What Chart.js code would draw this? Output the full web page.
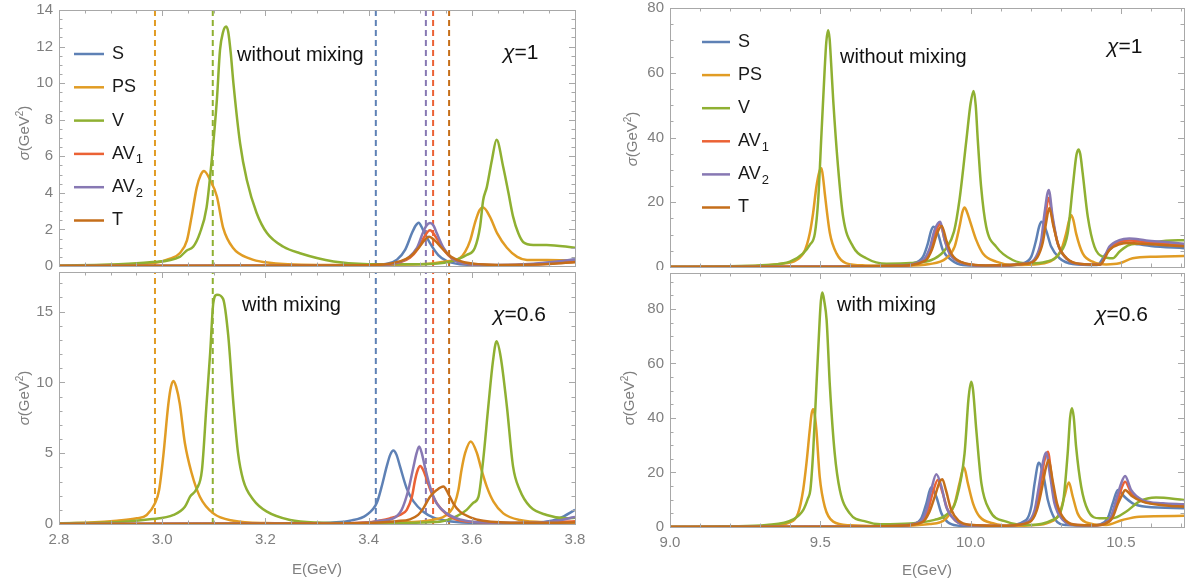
<!DOCTYPE html>
<html>
<head>
<meta charset="utf-8">
<script src="https://cdn.jsdelivr.net/npm/chart.js"></script>
<style>
  body { margin: 0; width: 1185px; height: 581px; overflow: hidden; background: #fff;
         font-family: "Liberation Sans", Arial, sans-serif; position: relative; }
  canvas { position: absolute; }
  .note { position: absolute; color: #111; font-size: 20px; line-height: 1; white-space: nowrap; transform: translateY(-50%); }
  .chi { font-size: 21px; }
  .ytitle { position: absolute; color: #7f7f7f; font-size: 15px; line-height: 1; white-space: nowrap;
            transform: translate(-50%, -50%) rotate(-90deg); }
  .xtitle { position: absolute; color: #7f7f7f; font-size: 15px; line-height: 1; white-space: nowrap;
            transform: translate(-50%, -50%); }
  sup { font-size: 10px; vertical-align: 6px; line-height: 0; }
</style>
</head>
<body>
<canvas id="topLeft" width="590" height="270" style="left:0;top:0"></canvas>
<canvas id="bottomLeft" width="590" height="311" style="left:0;top:270px"></canvas>
<canvas id="topRight" width="585" height="270" style="left:600px;top:0"></canvas>
<canvas id="bottomRight" width="585" height="311" style="left:600px;top:270px"></canvas>

<div class="note" style="left:237px;top:54px">without mixing</div>
<div class="note chi" style="left:503px;top:51px"><i>χ</i>=1</div>
<div class="note" style="left:242px;top:304px">with mixing</div>
<div class="note chi" style="left:493px;top:313px"><i>χ</i>=0.6</div>
<div class="note" style="left:840px;top:56px">without mixing</div>
<div class="note chi" style="left:1107px;top:45px"><i>χ</i>=1</div>
<div class="note" style="left:837px;top:304px">with mixing</div>
<div class="note chi" style="left:1095px;top:313px"><i>χ</i>=0.6</div>

<div class="ytitle" style="left:23px;top:133px"><i>σ</i>(GeV<sup>2</sup>)</div>
<div class="ytitle" style="left:23px;top:398px"><i>σ</i>(GeV<sup>2</sup>)</div>
<div class="ytitle" style="left:631px;top:139px"><i>σ</i>(GeV<sup>2</sup>)</div>
<div class="ytitle" style="left:628px;top:398px"><i>σ</i>(GeV<sup>2</sup>)</div>
<div class="xtitle" style="left:317px;top:568px">E(GeV)</div>
<div class="xtitle" style="left:927px;top:569px">E(GeV)</div>

<script>
// series order as in the legend
const seriesNames = ['S', 'PS', 'V', 'AV1', 'AV2', 'T'];
const seriesColors = ['#5e81b5', '#e19c24', '#8fb032', '#eb6235', '#8778b3', '#c56e1a'];

// dashed threshold lines in the charmonium panels
const thresholdE = [2.986, 3.098, 3.414, 3.511, 3.525, 3.556];
const thresholdOf = ['PS', 'V', 'S', 'AV2', 'AV1', 'T'];

// tick labels
const eTicksLow = [2.8, 3.0, 3.2, 3.4, 3.6, 3.8];
const eTicksHigh = [9.0, 9.5, 10.0, 10.5];
const sigmaTicksTL = [0, 2, 4, 6, 8, 10, 12, 14];
const sigmaTicksBL = [0, 5, 10, 15];
const sigmaTicksR = [0, 20, 40, 60, 80];

// top left: charmonium, without mixing, chi = 1   [E, sigma]
const tlS = [[2.8,0],[3.3,0.02],[3.4,0.04],[3.436,0.12],[3.455,0.35],[3.471,0.9],[3.484,1.8],[3.491,2.2],[3.497,2.37],[3.505,2.0],[3.519,1.25],[3.535,0.6],[3.551,0.28],[3.577,0.1],[3.65,0.03],[3.72,0.1],[3.8,0.35]];
const tlPS = [[2.8,0.02],[2.9,0.06],[2.982,0.15],[3.015,0.4],[3.034,0.7],[3.048,1.4],[3.057,2.7],[3.067,4.3],[3.075,5.0],[3.081,5.2],[3.093,4.7],[3.106,3.8],[3.118,2.1],[3.137,1.0],[3.17,0.4],[3.2,0.2],[3.3,0.05],[3.5,0.1],[3.55,0.25],[3.577,0.43],[3.587,0.77],[3.597,1.4],[3.606,2.35],[3.615,3.06],[3.622,3.2],[3.635,2.7],[3.649,1.8],[3.668,1.0],[3.688,0.5],[3.707,0.33],[3.746,0.33],[3.8,0.3]];
const tlV = [[2.8,0.02],[2.9,0.08],[2.976,0.2],[3.034,0.5],[3.047,0.84],[3.06,1.05],[3.073,1.8],[3.086,3.2],[3.096,5.8],[3.106,9.1],[3.112,11.8],[3.118,12.8],[3.124,13.1],[3.128,12.8],[3.133,11.6],[3.138,10.0],[3.151,6.7],[3.164,4.7],[3.183,2.9],[3.203,1.8],[3.235,1.05],[3.267,0.7],[3.332,0.25],[3.4,0.1],[3.5,0.1],[3.558,0.24],[3.59,0.6],[3.606,1.0],[3.616,2.15],[3.622,3.6],[3.629,4.3],[3.639,5.8],[3.648,6.9],[3.661,5.4],[3.671,4.0],[3.68,2.7],[3.69,1.8],[3.7,1.3],[3.719,1.15],[3.745,1.15],[3.8,1.0]];
const tlAV1 = [[2.8,0],[3.35,0.02],[3.43,0.05],[3.46,0.2],[3.48,0.45],[3.496,0.95],[3.508,1.6],[3.519,1.95],[3.53,1.6],[3.545,0.9],[3.562,0.4],[3.585,0.14],[3.65,0.04],[3.72,0.08],[3.8,0.25]];
const tlAV2 = [[2.8,0],[3.35,0.02],[3.43,0.06],[3.458,0.2],[3.476,0.43],[3.494,1.0],[3.505,1.8],[3.512,2.2],[3.519,2.35],[3.526,2.2],[3.532,1.8],[3.545,1.0],[3.561,0.43],[3.583,0.15],[3.65,0.05],[3.72,0.12],[3.8,0.35]];
const tlT = [[2.8,0],[3.35,0.03],[3.43,0.08],[3.46,0.25],[3.48,0.5],[3.497,1.0],[3.508,1.4],[3.517,1.6],[3.528,1.4],[3.543,0.95],[3.56,0.5],[3.585,0.2],[3.65,0.06],[3.72,0.08],[3.8,0.2]];

// bottom left: charmonium, with mixing, chi = 0.6
const blS = [[2.8,0],[3.2,0.02],[3.3,0.06],[3.331,0.1],[3.364,0.23],[3.396,0.64],[3.416,1.5],[3.425,2.6],[3.435,4.05],[3.442,4.9],[3.448,5.2],[3.454,4.9],[3.461,4.05],[3.474,2.5],[3.487,1.6],[3.506,0.87],[3.525,0.47],[3.551,0.23],[3.6,0.08],[3.68,0.05],[3.74,0.15],[3.77,0.4],[3.8,1.0]];
const blPS = [[2.8,0.04],[2.86,0.1],[2.912,0.23],[2.951,0.4],[2.97,0.64],[2.986,1.46],[2.994,2.4],[3.002,4.76],[3.012,8.5],[3.017,9.7],[3.022,10.1],[3.027,9.7],[3.034,8.5],[3.044,5.7],[3.057,3.6],[3.073,1.93],[3.099,0.75],[3.138,0.23],[3.2,0.07],[3.4,0.02],[3.45,0.1],[3.525,0.3],[3.558,0.87],[3.567,1.46],[3.574,2.4],[3.58,3.8],[3.587,5.0],[3.598,5.83],[3.61,5.0],[3.619,3.8],[3.629,2.64],[3.642,1.58],[3.661,0.75],[3.693,0.28],[3.75,0.12],[3.8,0.1]];
const blV = [[2.8,0.05],[2.912,0.12],[2.976,0.33],[3.022,0.64],[3.044,1.22],[3.054,1.93],[3.067,2.5],[3.077,3.8],[3.086,8.5],[3.093,12.1],[3.099,15.6],[3.106,16.2],[3.118,15.9],[3.128,13.3],[3.138,8.5],[3.147,5.0],[3.157,3.1],[3.177,1.7],[3.203,0.87],[3.248,0.28],[3.3,0.1],[3.4,0.05],[3.538,0.16],[3.571,0.55],[3.59,1.0],[3.603,1.5],[3.613,1.93],[3.622,4.5],[3.632,8.3],[3.641,11.5],[3.648,12.9],[3.656,11.8],[3.668,8.3],[3.68,4.05],[3.693,2.4],[3.713,1.22],[3.745,0.64],[3.784,0.4],[3.8,0.45]];
const blAV1 = [[2.8,0],[3.3,0.03],[3.4,0.12],[3.422,0.25],[3.441,0.4],[3.461,0.64],[3.474,1.0],[3.484,1.93],[3.49,3.1],[3.495,3.8],[3.5,4.1],[3.506,3.8],[3.513,3.1],[3.525,1.93],[3.542,1.0],[3.564,0.4],[3.6,0.15],[3.7,0.06],[3.8,0.2]];
const blAV2 = [[2.8,0],[3.3,0.03],[3.4,0.1],[3.422,0.23],[3.448,0.4],[3.464,1.0],[3.477,2.4],[3.487,4.05],[3.493,5.0],[3.498,5.47],[3.503,5.0],[3.509,4.05],[3.519,2.64],[3.532,1.46],[3.551,0.75],[3.577,0.33],[3.62,0.12],[3.7,0.08],[3.76,0.2],[3.8,0.5]];
const blT = [[2.8,0],[3.3,0.03],[3.42,0.1],[3.454,0.2],[3.48,0.33],[3.496,0.64],[3.506,1.1],[3.519,1.93],[3.532,2.4],[3.545,2.64],[3.554,2.17],[3.564,1.46],[3.577,0.87],[3.597,0.47],[3.622,0.23],[3.7,0.08],[3.8,0.1]];

// top right: bottomonium, without mixing, chi = 1
const trS = [[9.0,0],[9.5,0.05],[9.7,0.3],[9.808,1.13],[9.842,3.2],[9.858,7.3],[9.868,11.0],[9.877,12.4],[9.891,10.4],[9.908,5.2],[9.936,2.16],[9.975,0.6],[10.1,0.3],[10.174,1.13],[10.202,3.2],[10.218,8.3],[10.228,12.5],[10.236,14.0],[10.251,11.4],[10.268,6.3],[10.296,2.7],[10.34,0.93],[10.42,0.6],[10.451,4.2],[10.484,7.0],[10.517,7.5],[10.56,7.0],[10.6,6.5],[10.711,5.8]];
const trPS = [[9.0,0.05],[9.2,0.2],[9.365,0.93],[9.421,2.16],[9.449,5.2],[9.465,10.4],[9.476,16.6],[9.487,24.8],[9.497,29.5],[9.504,30.5],[9.51,27.0],[9.515,22.7],[9.532,10.4],[9.554,4.2],[9.587,1.13],[9.65,0.5],[9.75,0.35],[9.864,0.93],[9.919,2.7],[9.947,6.3],[9.963,12.4],[9.973,17.0],[9.98,18.4],[9.988,17.0],[9.997,14.5],[10.019,8.3],[10.041,4.2],[10.085,1.64],[10.14,0.6],[10.229,0.93],[10.273,2.16],[10.301,5.2],[10.318,10.4],[10.328,14.5],[10.335,16.0],[10.342,14.5],[10.351,10.4],[10.373,4.2],[10.406,1.64],[10.451,0.8],[10.495,1.13],[10.539,2.7],[10.617,3.2],[10.711,3.4]];
const trV = [[9.0,0.05],[9.2,0.25],[9.321,0.6],[9.399,1.64],[9.443,4.2],[9.465,6.8],[9.482,10.4],[9.493,20.7],[9.504,41.3],[9.515,61.8],[9.52,69.5],[9.526,73.1],[9.531,70.5],[9.536,63.0],[9.543,51.5],[9.559,31.0],[9.576,15.5],[9.609,6.3],[9.653,2.7],[9.72,1.0],[9.8,1.2],[9.88,2.6],[9.919,5.8],[9.945,11.0],[9.963,20.7],[9.986,39.2],[10.0,50.5],[10.01,54.4],[10.017,50.0],[10.024,39.2],[10.035,24.8],[10.052,12.4],[10.085,6.3],[10.14,2.16],[10.196,1.13],[10.251,1.64],[10.296,4.2],[10.323,10.4],[10.34,24.8],[10.352,34.5],[10.359,36.3],[10.365,34.8],[10.373,28.9],[10.39,15.5],[10.412,6.3],[10.44,3.2],[10.473,2.7],[10.495,4.7],[10.528,6.8],[10.584,7.3],[10.65,8.1],[10.711,8.3]];
const trAV1 = [[9.0,0],[9.5,0.05],[9.75,0.35],[9.845,2.0],[9.866,5.5],[9.883,10.8],[9.899,13.3],[9.915,8.0],[9.932,4.0],[9.965,1.5],[10.05,0.4],[10.188,1.1],[10.22,3.1],[10.237,8.0],[10.248,15.0],[10.26,21.4],[10.274,14.0],[10.291,6.9],[10.32,2.5],[10.365,0.9],[10.43,0.7],[10.462,5.8],[10.495,7.8],[10.528,8.2],[10.584,7.7],[10.65,7.1],[10.711,6.7]];
const trAV2 = [[9.0,0],[9.5,0.05],[9.75,0.4],[9.842,2.16],[9.864,5.8],[9.88,11.4],[9.899,14.0],[9.914,8.3],[9.93,4.2],[9.963,1.64],[10.05,0.4],[10.185,1.13],[10.218,3.2],[10.235,8.3],[10.246,16.6],[10.26,23.8],[10.273,15.5],[10.29,7.3],[10.318,2.7],[10.362,0.93],[10.43,0.7],[10.462,6.3],[10.495,8.3],[10.528,8.8],[10.584,8.2],[10.65,7.7],[10.711,7.2]];
const trT = [[9.0,0],[9.5,0.05],[9.75,0.35],[9.85,2.0],[9.872,5.5],[9.889,10.5],[9.904,12.7],[9.92,8.0],[9.937,4.0],[9.97,1.5],[10.05,0.5],[10.19,1.1],[10.222,3.0],[10.24,7.5],[10.25,13.0],[10.262,18.2],[10.276,12.5],[10.293,6.5],[10.322,2.5],[10.367,0.9],[10.43,0.7],[10.462,5.3],[10.495,7.0],[10.528,7.4],[10.584,7.1],[10.65,6.7],[10.711,6.4]];

// bottom right: bottomonium, with mixing, chi = 0.6
const brS = [[9.0,0],[9.5,0.05],[9.7,0.3],[9.808,1.1],[9.836,3.2],[9.853,8.7],[9.869,14.6],[9.886,11.1],[9.903,5.0],[9.93,1.36],[9.975,0.4],[10.1,0.3],[10.185,2.6],[10.202,7.4],[10.213,16.0],[10.227,23.6],[10.243,18.5],[10.257,9.9],[10.279,3.2],[10.318,0.73],[10.4,0.5],[10.429,0.9],[10.456,3.2],[10.473,8.7],[10.49,13.6],[10.512,11.1],[10.539,8.7],[10.584,7.4],[10.711,6.9]];
const brPS = [[9.0,0.05],[9.2,0.15],[9.321,0.37],[9.399,1.7],[9.426,5.0],[9.443,13.6],[9.454,23.4],[9.465,35.6],[9.471,41.5],[9.476,43.2],[9.481,41.5],[9.487,35.6],[9.498,18.5],[9.515,7.4],[9.543,1.96],[9.6,0.6],[9.7,0.3],[9.864,1.1],[9.919,3.2],[9.947,8.7],[9.963,16.0],[9.978,21.9],[9.991,16.0],[10.008,8.7],[10.03,3.8],[10.074,1.36],[10.14,0.37],[10.2,0.6],[10.262,1.7],[10.296,5.0],[10.312,11.1],[10.327,16.3],[10.34,11.1],[10.356,5.0],[10.384,1.7],[10.451,0.73],[10.506,2.6],[10.561,3.8],[10.711,4.1]];
const brV = [[9.0,0.05],[9.2,0.25],[9.321,0.73],[9.41,2.8],[9.443,6.2],[9.459,10.5],[9.467,13.6],[9.476,27.0],[9.487,51.5],[9.498,76.0],[9.502,83.0],[9.507,86.0],[9.513,83.0],[9.521,76.0],[9.532,51.5],[9.548,27.0],[9.565,13.6],[9.598,5.0],[9.653,1.96],[9.7,1.0],[9.8,1.3],[9.88,2.6],[9.919,4.4],[9.952,9.9],[9.98,27.0],[9.993,47.0],[10.002,53.3],[10.008,50.5],[10.019,35.6],[10.036,16.0],[10.063,6.2],[10.119,1.96],[10.196,0.73],[10.273,2.6],[10.307,8.7],[10.323,27.0],[10.331,40.0],[10.337,43.6],[10.343,40.5],[10.351,29.5],[10.368,14.8],[10.39,6.2],[10.429,3.2],[10.473,3.2],[10.517,5.6],[10.561,9.3],[10.617,10.8],[10.711,9.9]];
const brAV1 = [[9.0,0],[9.5,0.05],[9.75,0.35],[9.835,1.8],[9.857,5.8],[9.874,12.5],[9.891,17.2],[9.907,12.5],[9.923,6.5],[9.95,2.3],[9.99,0.7],[10.1,0.4],[10.193,1.8],[10.217,6.0],[10.232,15.0],[10.245,24.0],[10.257,27.6],[10.27,18.0],[10.284,8.5],[10.31,2.5],[10.355,0.7],[10.41,0.6],[10.443,1.1],[10.47,3.6],[10.487,9.0],[10.503,14.5],[10.514,16.6],[10.535,12.5],[10.572,9.5],[10.639,8.4],[10.711,8.0]];
const brAV2 = [[9.0,0],[9.5,0.05],[9.75,0.4],[9.831,1.96],[9.853,6.2],[9.869,13.6],[9.886,19.4],[9.903,14.8],[9.919,7.4],[9.947,2.6],[9.986,0.73],[10.1,0.4],[10.19,1.96],[10.213,6.2],[10.227,14.8],[10.24,23.4],[10.251,27.3],[10.265,18.5],[10.279,8.7],[10.307,2.6],[10.351,0.73],[10.41,0.6],[10.44,1.1],[10.467,3.8],[10.484,9.9],[10.501,16.0],[10.514,18.7],[10.534,13.6],[10.572,9.9],[10.639,8.7],[10.711,8.3]];
const brT = [[9.0,0],[9.5,0.05],[9.75,0.4],[9.84,1.8],[9.863,5.5],[9.882,11.5],[9.897,16.5],[9.906,17.5],[9.918,13.5],[9.935,6.5],[9.96,2.3],[10.0,0.8],[10.1,0.4],[10.196,1.8],[10.22,6.0],[10.237,14.0],[10.25,21.5],[10.26,24.6],[10.273,17.0],[10.288,8.5],[10.315,2.5],[10.36,0.7],[10.41,0.6],[10.445,1.1],[10.472,3.4],[10.49,8.5],[10.505,12.0],[10.514,13.6],[10.535,11.5],[10.572,9.3],[10.639,8.0],[10.711,7.4]];

const tickFont = { family: '"Liberation Sans", Arial, sans-serif', size: 15 };
const tickColor = '#7f7f7f';

// Mathematica-like frame with inward ticks on all four sides
function frameTicks(p) {
  return {
    id: 'frameTicks',
    afterDatasetsDraw(chart) {
      const { ctx, chartArea: a, scales: { x, y } } = chart;
      const near = (v, list) => list.some(t => Math.abs(t - v) < 1e-6);
      ctx.save();
      ctx.strokeStyle = '#a8a8a8';
      ctx.lineWidth = 1;
      ctx.strokeRect(Math.round(a.left) + 0.5, Math.round(a.top) + 0.5,
                     Math.round(a.right - a.left), Math.round(a.bottom - a.top));
      ctx.beginPath();
      for (let k = Math.ceil(x.min / p.xMinor - 1e-6); k * p.xMinor <= x.max + 1e-9; k++) {
        const v = k * p.xMinor;
        const px = Math.round(x.getPixelForValue(v)) + 0.5;
        const len = near(v, p.xTicks) ? 6 : 3.5;
        ctx.moveTo(px, a.bottom); ctx.lineTo(px, a.bottom - len);
        ctx.moveTo(px, a.top); ctx.lineTo(px, a.top + len);
      }
      for (let k = Math.ceil(y.min / p.yMinor - 1e-6); k * p.yMinor <= y.max + 1e-9; k++) {
        const v = k * p.yMinor;
        const py = Math.round(y.getPixelForValue(v)) + 0.5;
        const len = near(v, p.yTicks) ? 6 : 3.5;
        ctx.moveTo(a.left, py); ctx.lineTo(a.left + len, py);
        ctx.moveTo(a.right, py); ctx.lineTo(a.right - len, py);
      }
      ctx.stroke();
      ctx.restore();
    }
  };
}

// legend drawn inside the plot, with subscripts for AV1 / AV2
function seriesKey(k) {
  return {
    id: 'seriesKey',
    afterDraw(chart) {
      if (!k) return;
      const ctx = chart.ctx;
      ctx.save();
      ctx.textBaseline = 'middle';
      seriesNames.forEach((name, i) => {
        const yy = k.y0 + i * k.dy;
        ctx.strokeStyle = seriesColors[i];
        ctx.lineWidth = 2.5;
        ctx.beginPath();
        ctx.moveTo(k.x1, yy);
        ctx.lineTo(k.x2, yy);
        ctx.stroke();
        const m = name.match(/^(\D+)(\d)$/);
        const base = m ? m[1] : name;
        ctx.fillStyle = '#1a1a1a';
        ctx.font = '18px "Liberation Sans", Arial, sans-serif';
        ctx.fillText(base, k.tx, yy);
        if (m) {
          const w = ctx.measureText(base).width;
          ctx.font = '13px "Liberation Sans", Arial, sans-serif';
          ctx.fillText(m[2], k.tx + w + 1, yy + 6);
        }
      });
      ctx.restore();
    }
  };
}

function makePanel(id, p) {
  const datasets = seriesNames.map((name, i) => ({
    label: name,
    data: p.curves[i].map(([e, s]) => ({ x: e, y: s })),
    borderColor: seriesColors[i],
    borderWidth: 2.5,
    pointRadius: 0,
    cubicInterpolationMode: 'monotone',
    order: seriesNames.length - i
  }));

  if (p.dashed) {
    thresholdE.forEach((e, k) => {
      datasets.push({
        label: '',
        data: [{ x: e, y: p.yMin }, { x: e, y: p.yMax }],
        borderColor: seriesColors[seriesNames.indexOf(thresholdOf[k])],
        borderWidth: 2,
        borderDash: [6, 4],
        pointRadius: 0,
        tension: 0,
        order: 10
      });
    });
  }

  new Chart(document.getElementById(id).getContext('2d'), {
    type: 'line',
    data: { datasets },
    options: {
      responsive: false,
      animation: false,
      events: [],
      layout: { padding: { top: p.padTop, right: p.padRight, left: 0, bottom: 0 } },
      plugins: { legend: { display: false }, tooltip: { enabled: false } },
      scales: {
        x: {
          type: 'linear',
          min: p.xMin,
          max: p.xMax,
          grid: { display: false, drawTicks: false },
          border: { display: false },
          ticks: { display: p.showX, padding: 7, color: tickColor, font: tickFont,
                   callback: v => v.toFixed(1) },
          afterBuildTicks: s => { s.ticks = p.xTicks.map(v => ({ value: v })); },
          afterFit: s => { s.height = p.xHeight; s.paddingLeft = 0; s.paddingRight = 0; }
        },
        y: {
          type: 'linear',
          min: p.yMin,
          max: p.yMax,
          grid: { display: false, drawTicks: false },
          border: { display: false },
          ticks: { padding: 6, color: tickColor, font: tickFont, callback: v => String(v) },
          afterBuildTicks: s => { s.ticks = p.yTicks.map(v => ({ value: v })); },
          afterFit: s => { s.width = p.yWidth; s.paddingTop = 0; s.paddingBottom = 0; }
        }
      }
    },
    plugins: [frameTicks(p), seriesKey(p.key)]
  });
}

makePanel('topLeft', {
  curves: [tlS, tlPS, tlV, tlAV1, tlAV2, tlT], dashed: true,
  xMin: 2.8, xMax: 3.8, xTicks: eTicksLow, xMinor: 0.05, showX: false,
  yMin: 0, yMax: 14, yTicks: sigmaTicksTL, yMinor: 0.5,
  padTop: 10, padRight: 15, yWidth: 59, xHeight: 4,
  key: { x1: 74, x2: 104, tx: 112, y0: 54, dy: 33.3 }
});

makePanel('bottomLeft', {
  curves: [blS, blPS, blV, blAV1, blAV2, blT], dashed: true,
  xMin: 2.8, xMax: 3.8, xTicks: eTicksLow, xMinor: 0.05, showX: true,
  yMin: 0, yMax: 17.8, yTicks: sigmaTicksBL, yMinor: 1,
  padTop: 2, padRight: 15, yWidth: 59, xHeight: 57,
  key: null
});

makePanel('topRight', {
  curves: [trS, trPS, trV, trAV1, trAV2, trT], dashed: false,
  xMin: 9.0, xMax: 10.71, xTicks: eTicksHigh, xMinor: 0.1, showX: false,
  yMin: 0, yMax: 80, yTicks: sigmaTicksR, yMinor: 5,
  padTop: 8, padRight: 1, yWidth: 70, xHeight: 3,
  key: { x1: 102, x2: 130, tx: 138, y0: 42, dy: 33.1 }
});

makePanel('bottomRight', {
  curves: [brS, brPS, brV, brAV1, brAV2, brT], dashed: false,
  xMin: 9.0, xMax: 10.71, xTicks: eTicksHigh, xMinor: 0.1, showX: true,
  yMin: 0, yMax: 93.2, yTicks: sigmaTicksR, yMinor: 5,
  padTop: 3, padRight: 1, yWidth: 70, xHeight: 54,
  key: null
});
</script>
</body>
</html>
